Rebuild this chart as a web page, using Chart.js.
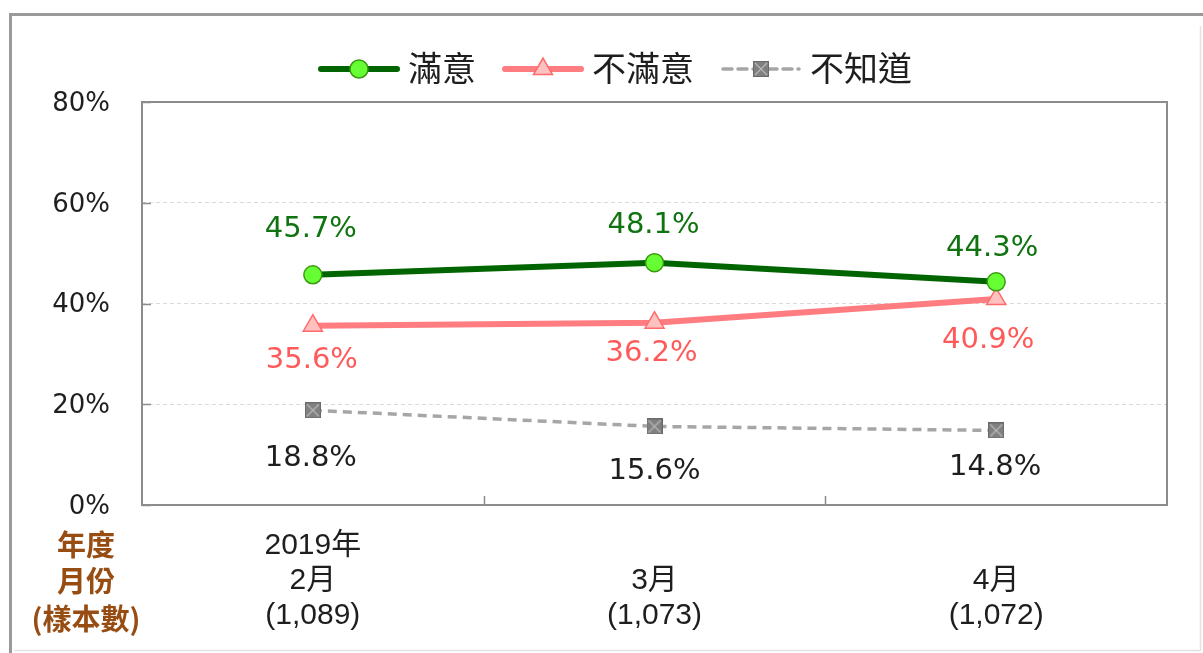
<!DOCTYPE html>
<html><head><meta charset="utf-8">
<script src="https://cdn.jsdelivr.net/npm/chart.js@4"></script>
<style>html,body{margin:0;padding:0;background:#fff;overflow:hidden}</style>
</head><body>
<canvas id="c" width="1203" height="653"></canvas>
<script>
// ---- data ----
const categories = [["2019年","2月","(1,089)"],["","3月","(1,073)"],["","4月","(1,072)"]];
const seriesNames = ["滿意","不滿意","不知道"];
const satisfied = [45.7, 48.1, 44.3];
const dissatisfied = [35.6, 36.2, 40.9];
const unknown = [18.8, 15.6, 14.8];
const yTicks = [0, 20, 40, 60, 80];
const axisTitleLines = ["年度","月份","(樣本數)"];

// ---- styles ----
const labelDx = [[-2,-1,-4],[-1,-3,-8],[-2,0,-1]];
const labelDy = [[-45,-37,-33],[35,31,42],[48,45,37]];
const labelColors = ["#0f730f","#ff5a5a","#1e1e1e"];
const numFont = "'DejaVu Sans', Verdana, sans-serif";
const cjkFont = "'Noto Sans CJK TC', 'Noto Sans CJK SC', sans-serif";

function makeCrossSquare(){
  const s = 16, cv = document.createElement('canvas');
  cv.width = s; cv.height = s;
  const g = cv.getContext('2d');
  g.fillStyle = '#808080'; g.fillRect(0,0,s,s);
  g.strokeStyle = '#6a6a6a'; g.lineWidth = 1; g.strokeRect(0.5,0.5,s-1,s-1);
  g.strokeStyle = '#b8b8b8'; g.lineWidth = 1.2;
  g.beginPath(); g.moveTo(2,2); g.lineTo(s-2,s-2); g.moveTo(s-2,2); g.lineTo(2,s-2); g.stroke();
  return cv;
}
const crossSquare = makeCrossSquare();

const decor = {
  id: 'decor',
  beforeDraw(chart){
    const ctx = chart.ctx;
    ctx.save();
    ctx.fillStyle = '#fff'; ctx.fillRect(0,0,chart.width,chart.height);
    ctx.strokeStyle = '#e2e2e2'; ctx.lineWidth = 1.5;
    ctx.beginPath(); ctx.moveTo(1200.5, 26); ctx.lineTo(1200.5, 650.5); ctx.lineTo(14, 650.5); ctx.stroke();
    ctx.strokeStyle = '#9a9a9a'; ctx.lineWidth = 3;
    ctx.beginPath(); ctx.moveTo(10.5, 653); ctx.lineTo(10.5, 14.5); ctx.lineTo(1203, 14.5); ctx.stroke();
    ctx.restore();
  },
  beforeDatasetsDraw(chart){
    const ctx = chart.ctx, a = chart.chartArea, xs = chart.scales.x, ys = chart.scales.y;
    ctx.save();
    ctx.strokeStyle = '#8c8c8c'; ctx.lineWidth = 2;
    ctx.strokeRect(a.left, a.top, a.right - a.left, a.bottom - a.top);
    ctx.lineWidth = 1.5;
    ctx.beginPath();
    yTicks.forEach(v => { const y = Math.round(ys.getPixelForValue(v)) + 0.5; ctx.moveTo(a.left, y); ctx.lineTo(a.left + 9, y); });
    for (let i = 0; i < categories.length - 1; i++) {
      const x = Math.round(xs.getPixelForValue(i + 0.5)) + 0.5;
      ctx.moveTo(x, a.bottom); ctx.lineTo(x, a.bottom - 9);
    }
    ctx.stroke();
    ctx.restore();
  },
  afterDatasetsDraw(chart){
    const ctx = chart.ctx;
    ctx.save();
    ctx.font = "29px " + numFont;
    ctx.textAlign = 'center'; ctx.textBaseline = 'middle';
    chart.data.datasets.forEach((ds, i) => {
      const meta = chart.getDatasetMeta(i);
      ctx.fillStyle = labelColors[i];
      meta.data.forEach((pt, j) => {
        ctx.fillText(ds.data[j].toFixed(1) + '%', pt.x + labelDx[i][j], pt.y + labelDy[i][j]);
      });
    });
    let x = 318; const ly = 69;
    ctx.font = "34px " + cjkFont; ctx.textAlign = 'left';
    chart.data.datasets.forEach((ds, i) => {
      const len = 82;
      ctx.save();
      ctx.strokeStyle = ds.borderColor; ctx.lineWidth = ds.borderWidth; ctx.lineCap = 'round';
      ctx.setLineDash(ds.borderDash || []);
      ctx.beginPath(); ctx.moveTo(x + 3, ly); ctx.lineTo(x + len - 3, ly); ctx.stroke();
      ctx.restore();
      ctx.save();
      ctx.fillStyle = ds.pointBackgroundColor; ctx.strokeStyle = ds.pointBorderColor; ctx.lineWidth = ds.pointBorderWidth;
      Chart.helpers.drawPoint(ctx, {pointStyle: ds.pointStyle, radius: ds.pointRadius, rotation: 0, borderWidth: ds.pointBorderWidth}, x + len/2, ly);
      ctx.restore();
      ctx.fillStyle = '#1e1e1e'; ctx.textBaseline = 'middle';
      ctx.fillText(ds.label, x + len + 8, ly - 1);
      x += len + 8 + ctx.measureText(ds.label).width + 26;
    });
    ctx.font = "bold 29px " + cjkFont; ctx.textAlign = 'center'; ctx.fillStyle = '#974c12';
    const ty = [545, 581, 619];
    axisTitleLines.forEach((t, k) => ctx.fillText(t, 86, ty[k]));
    ctx.restore();
  }
};

new Chart(document.getElementById('c'), {
  type: 'line',
  data: {
    labels: categories,
    datasets: [
      { label: seriesNames[0], data: satisfied, borderColor: '#006400', borderWidth: 6,
        pointStyle: 'circle', pointRadius: 9, pointBackgroundColor: '#66ff33', pointBorderColor: '#3a9a10', pointBorderWidth: 1.5 },
      { label: seriesNames[1], data: dissatisfied, borderColor: '#ff7c80', borderWidth: 6,
        pointStyle: 'triangle', pointRadius: 11, pointBackgroundColor: '#ffc0c0', pointBorderColor: '#ff6a6a', pointBorderWidth: 1.5 },
      { label: seriesNames[2], data: unknown, borderColor: '#a6a6a6', borderWidth: 3.5, borderDash: [9, 6],
        pointStyle: crossSquare, pointRadius: 8, pointBackgroundColor: '#808080', pointBorderColor: '#6a6a6a', pointBorderWidth: 1 }
    ]
  },
  options: {
    responsive: false, animation: false, devicePixelRatio: 1,
    layout: { padding: { top: 102, right: 36, left: 0, bottom: 0 } },
    plugins: { legend: { display: false }, tooltip: { enabled: false } },
    scales: {
      x: {
        offset: true,
        grid: { display: false, drawTicks: false },
        border: { display: false },
        ticks: { color: '#1e1e1e', padding: 23, maxRotation: 0, autoSkip: false,
          font: { family: "'Liberation Sans', Arial, 'Noto Sans CJK TC', sans-serif", size: 30, lineHeight: '35px' } },
        afterFit(s){ s.height = 148; }
      },
      y: {
        min: 0, max: 80,
        afterBuildTicks(s){ s.ticks = yTicks.map(v => ({ value: v })); },
        grid: { color: '#d9d9d9', lineWidth: 1, drawTicks: false },
        border: { display: false, dash: [4, 3] },
        ticks: { color: '#1e1e1e', padding: 32, labelOffset: 2, callback: v => v + '%',
          font: { family: numFont, size: 26 } },
        afterFit(s){ s.width = 142; }
      }
    }
  },
  plugins: [decor]
});
</script>
</body></html>
